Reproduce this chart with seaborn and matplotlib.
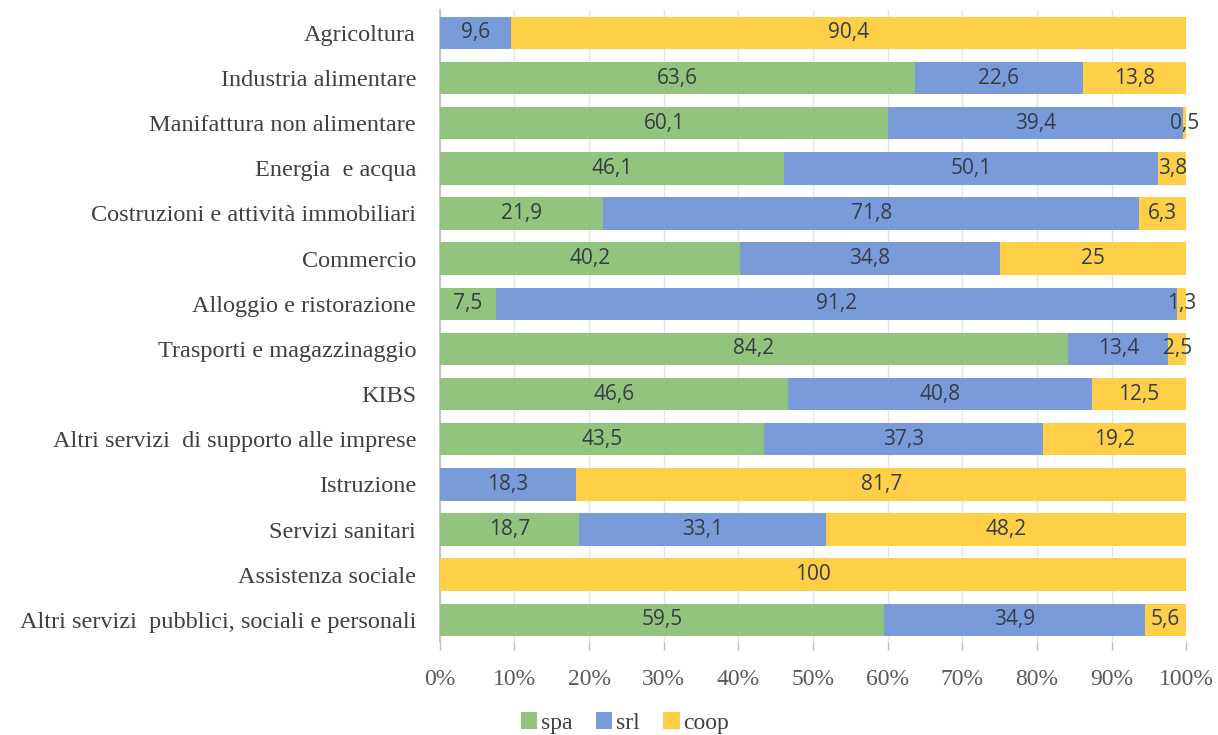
import matplotlib
matplotlib.use("Agg")
import matplotlib.pyplot as plt
import seaborn as sns
import pandas as pd
import numpy as np
from matplotlib.patches import Patch

categories = [
    "Agricoltura",
    "Industria alimentare",
    "Manifattura non alimentare",
    "Energia  e acqua",
    "Costruzioni e attività immobiliari",
    "Commercio",
    "Alloggio e ristorazione",
    "Trasporti e magazzinaggio",
    "KIBS",
    "Altri servizi  di supporto alle imprese",
    "Istruzione",
    "Servizi sanitari",
    "Assistenza sociale",
    "Altri servizi  pubblici, sociali e personali",
]
spa = [0, 63.6, 60.1, 46.1, 21.9, 40.2, 7.5, 84.2, 46.6, 43.5, 0, 18.7, 0, 59.5]
srl = [9.6, 22.6, 39.4, 50.1, 71.8, 34.8, 91.2, 13.4, 40.8, 37.3, 18.3, 33.1, 0, 34.9]
coop = [90.4, 13.8, 0.5, 3.8, 6.3, 25, 1.3, 2.5, 12.5, 19.2, 81.7, 48.2, 100, 5.6]
series_names = ["spa", "srl", "coop"]
colors = {"spa": "#93C47D", "srl": "#7A9BDA", "coop": "#FFD047"}

df = pd.DataFrame({"cat": categories, "spa": spa, "srl": srl, "coop": coop})
df["c1"] = df["spa"]
df["c2"] = df["spa"] + df["srl"]
df["c3"] = df["spa"] + df["srl"] + df["coop"]

sns.set_theme(style="white")
plt.rcParams["font.family"] = ["Liberation Serif", "DejaVu Serif"]

fig = plt.figure(figsize=(12.18, 7.35), dpi=100)
ax = fig.add_axes([0.361, 0.126, 0.613, 0.860])

for col, name in [("c3", "coop"), ("c2", "srl"), ("c1", "spa")]:
    sns.barplot(data=df, x=col, y="cat", order=categories, color=colors[name],
                orient="h", width=0.72, ax=ax, saturation=1, zorder=3,
                linewidth=0, edgecolor="none")

def fmt(v):
    s = f"{v:.1f}".replace(".", ",")
    if s.endswith(",0"):
        s = s[:-2]
    return s

for i in range(len(categories)):
    left = 0.0
    for name in series_names:
        v = df.loc[i, name]
        if v > 0:
            ax.text(left + v / 2, i, fmt(v), ha="center", va="center",
                    fontsize=15, color="#353c45", family=["Open Sans", "DejaVu Sans"], zorder=5)
        left += v

ax.set_xlim(0, 100)
ax.set_ylim(13.5, -0.5)
ax.set_xticks(np.arange(0, 101, 10))
ax.set_xticklabels([f"{t}%" for t in range(0, 101, 10)], fontsize=17, color="#595959")
ax.tick_params(axis="x", bottom=True, length=6, width=1, color="#bfbfbf", pad=13)
ax.tick_params(axis="y", left=False, labelsize=17.5, labelcolor="#404040", pad=11)
ax.set_xlabel("")
ax.set_ylabel("")
ax.xaxis.grid(True, color="#e4e4e4", linewidth=1, zorder=0)
ax.set_axisbelow(True)
for s in ["top", "right", "bottom"]:
    ax.spines[s].set_visible(False)
ax.spines["left"].set_color("#bfbfbf")
ax.spines["left"].set_linewidth(1.2)

handles = [Patch(facecolor=colors[n], edgecolor="none", label=n) for n in series_names]
fig.legend(handles=handles, loc="lower center", bbox_to_anchor=(0.513, -0.027), ncol=3,
           frameon=False, fontsize=17, handlelength=0.7, handleheight=0.7,
           handletextpad=0.15, columnspacing=1.0, labelcolor="#404040")

fig.savefig("out.png", dpi=100, facecolor="white")
